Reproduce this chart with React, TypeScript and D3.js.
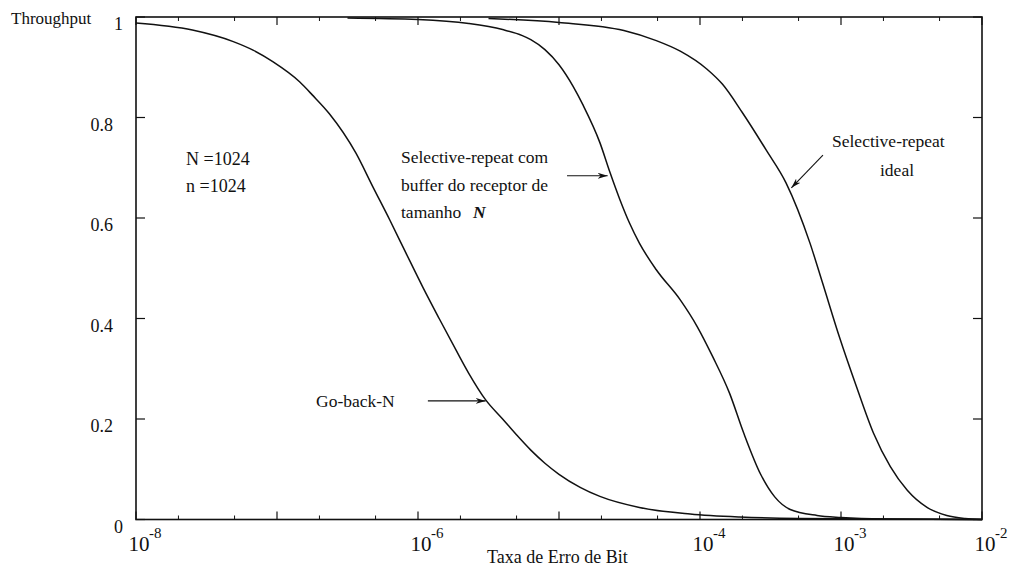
import React from "react";
import * as d3 from "d3";

// x = log10(bit error rate), y = throughput
const goBackExp = [-8, -7.6, -7.31, -7.17, -7.03, -6.84, -6.75, -6.63, -6.44, -6.32, -6.2, -6.085, -5.967, -5.85, -5.73, -5.64, -5.52, -5.4, -5.3, -5.2, -5.1, -5.0, -4.85, -4.71, -4.43, -4.07, -3.72, -3.3, -2.0];
const goBackThr = [0.988, 0.974, 0.951, 0.934, 0.911, 0.871, 0.845, 0.808, 0.729, 0.662, 0.596, 0.53, 0.463, 0.4, 0.337, 0.291, 0.238, 0.2, 0.168, 0.138, 0.112, 0.09, 0.064, 0.046, 0.024, 0.011, 0.005, 0.002, 0.0];

const srBufExp = [-6.5, -6.0, -5.64, -5.4, -5.26, -5.2, -5.1, -5.0, -4.9, -4.83, -4.71, -4.64, -4.57, -4.5, -4.43, -4.31, -4.14, -4.02, -3.91, -3.79, -3.69, -3.57, -3.47, -3.36, -3.17, -3.0, -2.7, -2.0];
const srBufThr = [0.998, 0.995, 0.987, 0.975, 0.963, 0.955, 0.935, 0.905, 0.862, 0.825, 0.75, 0.692, 0.638, 0.59, 0.55, 0.497, 0.437, 0.384, 0.324, 0.251, 0.172, 0.09, 0.045, 0.02, 0.008, 0.004, 0.001, 0.0];

const srIdealExp = [-5.5, -5.0, -4.54, -4.31, -4.14, -3.95, -3.84, -3.7, -3.53, -3.39, -3.22, -3.13, -3.01, -2.89, -2.77, -2.65, -2.53, -2.39, -2.25, -2.12, -2.0];
const srIdealThr = [0.997, 0.989, 0.973, 0.953, 0.932, 0.896, 0.866, 0.81, 0.735, 0.67, 0.55, 0.47, 0.362, 0.264, 0.172, 0.105, 0.058, 0.024, 0.008, 0.002, 0.0];

const xDecades = [-8, -6, -4, -3, -2];
const allDecades = [-8, -7, -6, -5, -4, -3, -2];
const yTicks = [0, 0.2, 0.4, 0.6, 0.8, 1];
const yTickLabels = ["0", "0.2", "0.4", "0.6", "0.8", "1"];

// annotation arrows in data coords: [exp0, thr0, exp1, thr1]
const arrows = [
  [-5.93, 0.236, -5.52, 0.236],
  [-4.943, 0.684, -4.655, 0.684],
  [-3.128, 0.725, -3.352, 0.66],
];

const W = 1012;
const H = 568;
const L = 136, R = 982, T = 17, B = 519.5;
const FONT = "'Liberation Serif', 'DejaVu Serif', serif";

export default function App() {
  const x = d3.scaleLog().domain([1e-8, 1e-2]).range([L, R]);
  const y = d3.scaleLinear().domain([0, 1]).range([B, T]);
  const line = d3
    .line<[number, number]>()
    .x((d) => x(Math.pow(10, d[0])))
    .y((d) => y(d[1]))
    .curve(d3.curveMonotoneX);

  const series = [
    d3.zip(goBackExp, goBackThr) as [number, number][],
    d3.zip(srBufExp, srBufThr) as [number, number][],
    d3.zip(srIdealExp, srIdealThr) as [number, number][],
  ];

  const minor: number[] = [];
  for (let e = -8; e < -2; e++) {
    minor.push(Math.pow(10, e) * 2, Math.pow(10, e) * 5);
  }

  return (
    <svg width={W} height={H} style={{ position: "absolute", left: 0, top: 0, background: "#fff" }} fontFamily={FONT}>
      <defs>
        <marker id="ah" viewBox="0 0 10 6" refX="10" refY="3" markerWidth="10" markerHeight="6" markerUnits="userSpaceOnUse" orient="auto">
          <path d="M0,0 L10,3 L0,6 L3,3 Z" fill="#111" />
        </marker>
      </defs>
      <rect x={L} y={T} width={R - L} height={B - T} fill="none" stroke="#111" strokeWidth={1.6} />
      {allDecades.map((e) => (
        <g key={"d" + e} stroke="#111" strokeWidth={1.2}>
          <line x1={x(Math.pow(10, e))} x2={x(Math.pow(10, e))} y1={B} y2={B - 8} />
          <line x1={x(Math.pow(10, e))} x2={x(Math.pow(10, e))} y1={T} y2={T + 8} />
        </g>
      ))}
      {minor.map((v, i) => (
        <g key={"m" + i} stroke="#111" strokeWidth={1}>
          <line x1={x(v)} x2={x(v)} y1={B} y2={B - 4} />
          <line x1={x(v)} x2={x(v)} y1={T} y2={T + 4} />
        </g>
      ))}
      {yTicks.map((t) => (
        <g key={"y" + t} stroke="#111" strokeWidth={1.2}>
          <line x1={L} x2={L + 9} y1={y(t)} y2={y(t)} />
          <line x1={R} x2={R - 9} y1={y(t)} y2={y(t)} />
        </g>
      ))}
      {yTicks.map((t, i) => (
        <text key={"yl" + t} x={t === 0 || t === 1 ? 123 : 113} y={y(t) + 13} fontSize={18} textAnchor="end" fill="#111">
          {yTickLabels[i]}
        </text>
      ))}
      {xDecades.map((e) => (
        <g key={"xl" + e} fill="#111">
          <text x={x(Math.pow(10, e)) + 3} y={551} fontSize={21} textAnchor="middle">10</text>
          <text x={x(Math.pow(10, e)) + 13} y={538} fontSize={15}>{"-" + Math.abs(e)}</text>
        </g>
      ))}
      <text x={11} y={24} fontSize={17} fill="#111">Throughput</text>
      <text x={487} y={563} fontSize={18} fill="#111">Taxa de Erro de Bit</text>

      {series.map((s, i) => (
        <path key={"s" + i} d={line(s) || ""} fill="none" stroke="#111" strokeWidth={1.5} />
      ))}

      {arrows.map((a, i) => (
        <line key={"a" + i} x1={x(Math.pow(10, a[0]))} y1={y(a[1])} x2={x(Math.pow(10, a[2]))} y2={y(a[3])} stroke="#111" strokeWidth={1.1} markerEnd="url(#ah)" />
      ))}

      <g fill="#111" fontSize={17.5}>
        <text x={186} y={165} fontSize={18}>N =1024</text>
        <text x={186} y={192} fontSize={18}>n =1024</text>
        <text x={401} y={163}>Selective-repeat com</text>
        <text x={401} y={191}>buffer do receptor de</text>
        <text x={401} y={218}>tamanho</text>
        <text x={473} y={218} fontStyle="italic" fontWeight="bold">N</text>
        <text x={316} y={407}>Go-back-N</text>
        <text x={832} y={147}>Selective-repeat</text>
        <text x={880} y={176}>ideal</text>
      </g>
    </svg>
  );
}
